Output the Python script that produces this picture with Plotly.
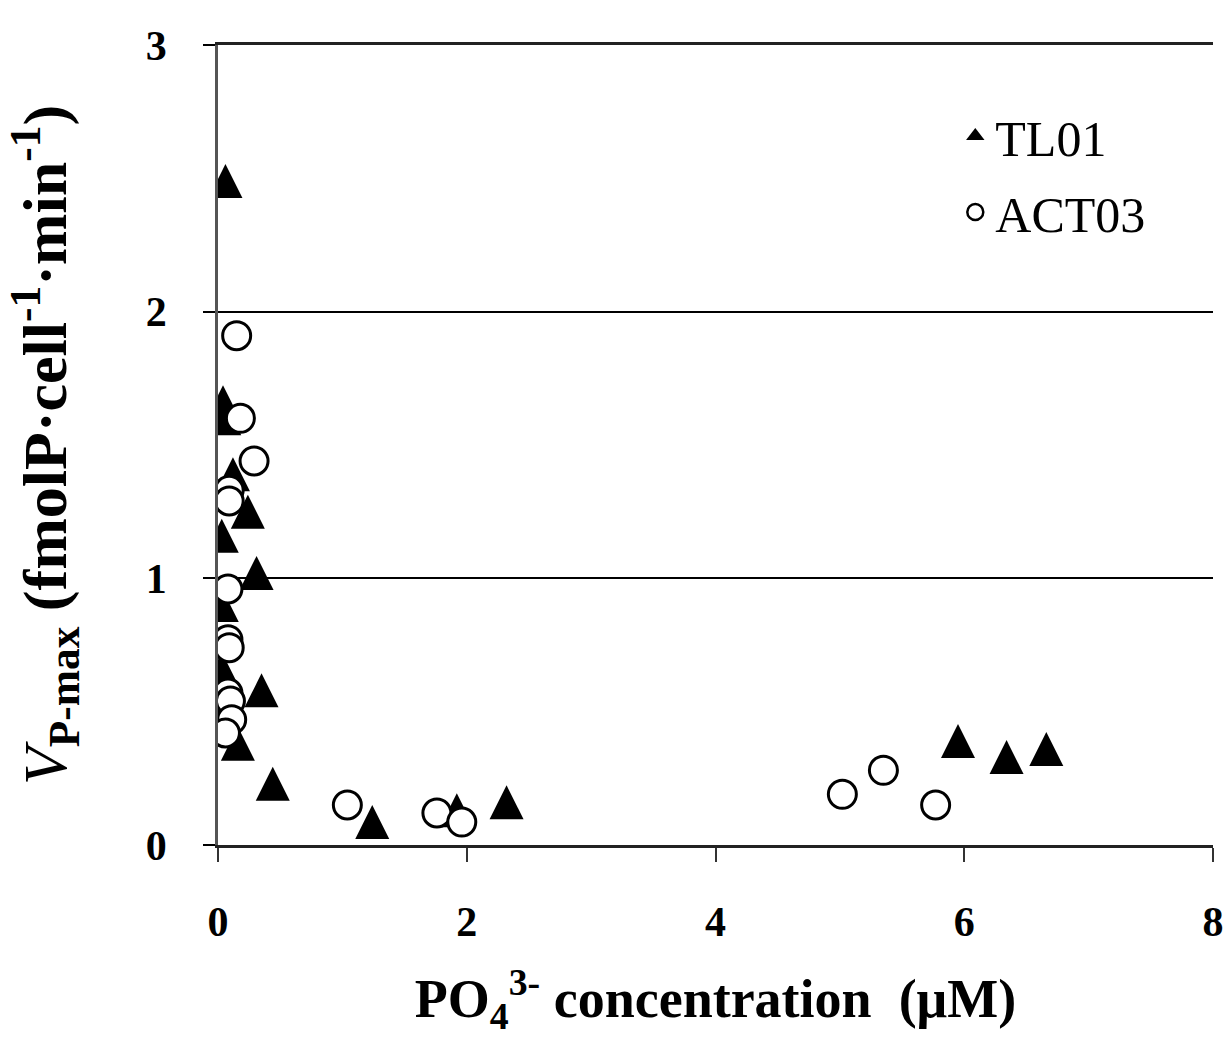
import plotly.graph_objects as go

# Phosphate uptake maximum rate vs. ambient phosphate concentration
tl01_po4 = [0.06, 0.04, 0.05, 0.12, 0.24, 0.03, 0.31, 0.03, 0.03, 0.02, 0.35, 0.16, 0.44, 1.24, 1.92, 2.32, 5.95, 6.34, 6.66]
tl01_vmax = [2.49, 1.66, 1.60, 1.39, 1.25, 1.16, 1.02, 0.90, 0.66, 0.50, 0.58, 0.38, 0.23, 0.086, 0.13, 0.16, 0.39, 0.33, 0.36]

act03_po4 = [0.15, 0.18, 0.29, 0.09, 0.09, 0.08, 0.08, 0.09, 0.08, 0.10, 0.11, 0.06, 1.04, 1.76, 1.96, 5.02, 5.35, 5.77]
act03_vmax = [1.91, 1.60, 1.44, 1.33, 1.29, 0.96, 0.77, 0.74, 0.57, 0.54, 0.47, 0.42, 0.15, 0.12, 0.086, 0.19, 0.28, 0.15]

x_ticks = [0, 2, 4, 6, 8]
y_ticks = [0, 1, 2, 3]

SERIF = "Liberation Serif"

fig = go.Figure()

# Filled triangles: an arrow-down glyph flipped upright and centred on the point
fig.add_trace(go.Scatter(
    x=tl01_po4, y=tl01_vmax, mode="markers", name="TL01",
    legendgroup="tl01", showlegend=False,
    marker=dict(symbol="arrow-down", angle=180, size=34, standoff=17,
                color="black", line=dict(color="black", width=0)),
))

# Open circles drawn on top
fig.add_trace(go.Scatter(
    x=act03_po4, y=act03_vmax, mode="markers", name="ACT03",
    legendgroup="act03", showlegend=False,
    marker=dict(symbol="circle", size=28, color="white",
                line=dict(color="black", width=3)),
))

# Legend keys (the legend ignores marker standoff, so use centred symbols)
fig.add_trace(go.Scatter(
    x=[None], y=[None], mode="markers", name="TL01", legendgroup="tl01",
    marker=dict(symbol="triangle-up", size=16, color="black"),
))
fig.add_trace(go.Scatter(
    x=[None], y=[None], mode="markers", name="ACT03", legendgroup="act03",
    marker=dict(symbol="circle", size=16, color="white",
                line=dict(color="black", width=2.5)),
))

fig.update_layout(
    width=1225, height=1039,
    margin=dict(l=218, r=12, t=45, b=194),
    paper_bgcolor="white", plot_bgcolor="white",
    font=dict(family=SERIF, color="black"),
    showlegend=True,
    legend=dict(
        x=0.741, y=0.935, xanchor="left", yanchor="top",
        font=dict(family=SERIF, size=50, color="black"),
        bgcolor="rgba(0,0,0,0)", itemwidth=30,
        traceorder="grouped", tracegroupgap=8,
    ),
)

fig.update_xaxes(
    range=[0, 8], tickvals=x_ticks, ticktext=[str(v) for v in x_ticks],
    automargin=False,
    showgrid=False, zeroline=False,
    showline=True, linecolor="#222", linewidth=2.5, mirror=True,
    ticks="outside", ticklen=14, tickwidth=2, tickcolor="#333",
    ticklabelstandoff=24,
    tickfont=dict(family=SERIF, size=42, weight="bold"),
    title=dict(
        text="PO<sub>4</sub><sup>3-</sup> concentration  (μM)",
        font=dict(family=SERIF, size=54, weight="bold"),
        standoff=36,
    ),
)

fig.update_yaxes(
    range=[0, 3], tickvals=y_ticks, ticktext=[str(v) for v in y_ticks],
    automargin=False,
    showgrid=True, gridcolor="black", gridwidth=1.5,
    zeroline=False,
    showline=True, linecolor="#555", linewidth=2.5,
    ticks="outside", ticklen=12, tickwidth=1.5, tickcolor="black",
    ticklabelstandoff=28,
    tickfont=dict(family=SERIF, size=42, weight="bold"),
    title=dict(
        text="<span style='font-weight:normal'><i>V</i></span><sub>P-max</sub> (fmolP·cell<sup>-1</sup>·min<sup>-1</sup>)",
        font=dict(family=SERIF, size=62, weight="bold"),
        standoff=60,
    ),
)

fig.write_html("out.html")
